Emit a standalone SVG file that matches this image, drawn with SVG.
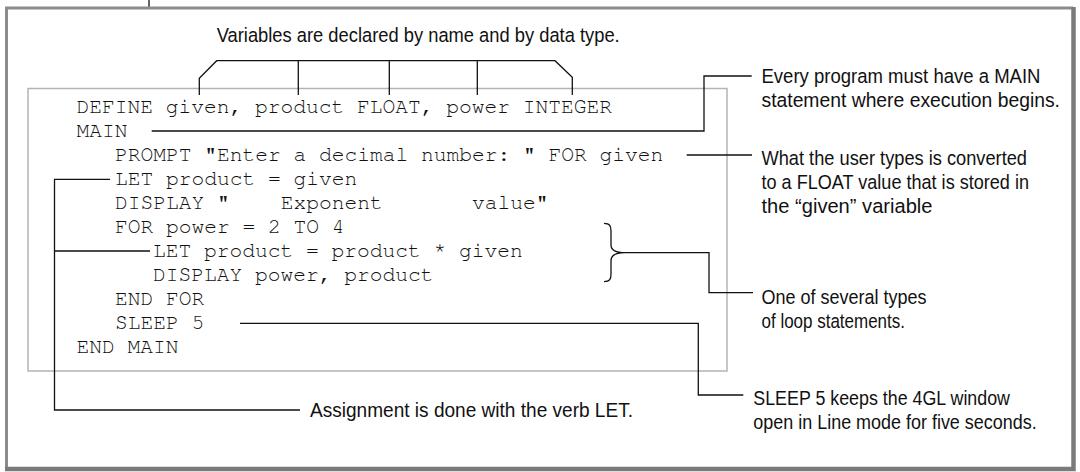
<svg xmlns="http://www.w3.org/2000/svg" width="1080" height="472" viewBox="0 0 1080 472">
<style>
.code{font-family:"Nimbus Mono PS","Nimbus Mono L","FreeMono","Courier New","Liberation Mono",monospace;font-size:21.25px;fill:#111;white-space:pre}
.lbl{font-family:"Liberation Sans Narrow","Arial Narrow","Liberation Sans",Arial,sans-serif;font-size:20.5px;fill:#111}
.ln{fill:none;stroke:#111;stroke-width:1.3}
</style>
<rect width="1080" height="472" fill="#fff"/>
<g id="frame">
<line x1="149" y1="0" x2="149" y2="8" stroke="#111" stroke-width="1.3"/>
<path d="M6.5 469 V8 H1073" fill="none" stroke="#8c8c8c" stroke-width="3"/>
<path d="M1073.5 7 V469 H5" fill="none" stroke="#7a7a7a" stroke-width="4.5"/>
</g>
<g id="codebox">
<rect x="28" y="88.5" width="699" height="282.5" fill="none" stroke="#b4b4b4" stroke-width="1.5"/>
<text class="code" x="76.5" y="113">DEFINE given, product FLOAT, power INTEGER</text>
<text class="code" x="76.5" y="137">MAIN</text>
<text class="code" x="115" y="161">PROMPT "Enter a decimal number: " FOR given</text>
<text class="code" x="115" y="185">LET product = given</text>
<text class="code" x="115" y="209" xml:space="preserve">DISPLAY "    Exponent       value"</text>
<text class="code" x="115" y="233">FOR power = 2 TO 4</text>
<text class="code" x="153" y="257">LET product = product * given</text>
<text class="code" x="153" y="281">DISPLAY power, product</text>
<text class="code" x="115" y="305">END FOR</text>
<text class="code" x="115" y="329">SLEEP 5</text>
<text class="code" x="76.5" y="353">END MAIN</text>
</g>
<g id="connectors">
<path class="ln" d="M199.3 95 V78.3 L216.7 60.7 H555 L572.3 77.3 V95"/>
<path class="ln" d="M298.3 60.7 V95 M389.3 60.7 V95 M477.3 60.7 V95"/>
<path class="ln" d="M151.7 131 H704 V76 H751.7"/>
<path class="ln" d="M686.7 155 H752"/>
<path class="ln" d="M110 179.3 H54.5 V410 H300 M54.5 251 H150"/>
<path class="ln" d="M604 223.3 C610 223.3 611 226 611 231 L611 245 C611 250 615 252.7 625 252.7 C615 252.7 611 255.5 611 260.5 L611 274 C611 279 610 281.7 604 281.7"/>
<path class="ln" d="M625 252.7 H709 V292.7 H753"/>
<path class="ln" d="M240 323.3 H698.3 V395 H743.3"/>
</g>
<g id="label-variables"><text class="lbl" x="216.7" y="42" textLength="403" lengthAdjust="spacingAndGlyphs">Variables are declared by name and by data type.</text></g>
<g id="label-main">
<text class="lbl" x="761.5" y="82.5" textLength="279" lengthAdjust="spacingAndGlyphs">Every program must have a MAIN</text>
<text class="lbl" x="761.5" y="106.5" textLength="298.5" lengthAdjust="spacingAndGlyphs">statement where execution begins.</text>
</g>
<g id="label-prompt">
<text class="lbl" x="761.5" y="165" textLength="265.5" lengthAdjust="spacingAndGlyphs">What the user types is converted</text>
<text class="lbl" x="761.5" y="189" textLength="267.5" lengthAdjust="spacingAndGlyphs">to a FLOAT value that is stored in</text>
<text class="lbl" x="761.5" y="213" textLength="171" lengthAdjust="spacingAndGlyphs">the “given” variable</text>
</g>
<g id="label-loop">
<text class="lbl" x="761.5" y="304" textLength="165" lengthAdjust="spacingAndGlyphs">One of several types</text>
<text class="lbl" x="761.5" y="328" textLength="143.5" lengthAdjust="spacingAndGlyphs">of loop statements.</text>
</g>
<g id="label-sleep">
<text class="lbl" x="753.3" y="405" textLength="256.7" lengthAdjust="spacingAndGlyphs">SLEEP 5 keeps the 4GL window</text>
<text class="lbl" x="753.3" y="429" textLength="283.4" lengthAdjust="spacingAndGlyphs">open in Line mode for five seconds.</text>
</g>
<g id="label-let"><text class="lbl" x="310" y="416.5" textLength="323" lengthAdjust="spacingAndGlyphs">Assignment is done with the verb LET.</text></g>
</svg>
